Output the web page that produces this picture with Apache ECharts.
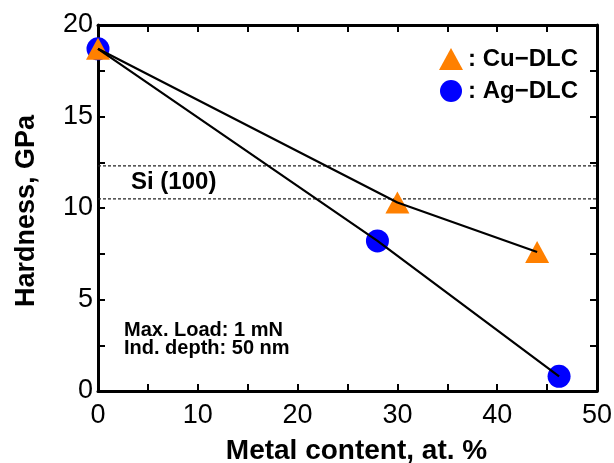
<!DOCTYPE html>
<html><head><meta charset="utf-8">
<script src="https://cdn.jsdelivr.net/npm/echarts@6/dist/echarts.min.js"></script>
<style>html,body{margin:0;padding:0;background:#fff}#c{width:614px;height:463px}</style>
</head><body><div id="c"></div>
<script>
// Data
const cuName = 'Cu\u2212DLC';
const agName = 'Ag\u2212DLC';
const cuX = [0, 30, 44];
const cuY = [18.7, 10.3, 7.6];
const agX = [0, 28, 46.2];
const agY = [18.7, 8.2, 0.8];
const siLevels = [12.3, 10.5];
const xTickLabels = [0, 10, 20, 30, 40, 50];
const yTickLabels = [0, 5, 10, 15, 20];

const FONT = 'Liberation Sans, Arial, Helvetica, sans-serif';
const pairs = (xs, ys) => xs.map((x, i) => [x, ys[i]]);

const chart = echarts.init(document.getElementById('c'), null, {renderer: 'canvas'});

const axisLine = {show: true, onZero: false, lineStyle: {color: '#000', width: 3}};
const axisTick = {show: true, inside: true, length: 7, lineStyle: {color: '#000', width: 2}};

const option = {
  animation: false,
  backgroundColor: '#fff',
  grid: {left: 98, right: 17, top: 25, bottom: 72, containLabel: false, outerBoundsMode: 'none'},
  xAxis: [{
    type: 'value', min: 0, max: 50, interval: 5, position: 'bottom',
    axisLine, axisTick, splitLine: {show: false},
    axisLabel: {
      margin: 11, fontSize: 27, fontFamily: FONT, color: '#000',
      formatter: v => xTickLabels.includes(v) ? String(v) : ''
    },
    name: 'Metal content, at. %', nameLocation: 'middle', nameGap: 46,
    nameTextStyle: {fontSize: 28, fontWeight: 'bold', fontFamily: FONT, color: '#000', padding: [0, 0, 0, 18]}
  }, {
    type: 'value', min: 0, max: 50, interval: 5, position: 'top',
    axisLine, axisTick, splitLine: {show: false}, axisLabel: {show: false}
  }],
  yAxis: [{
    type: 'value', min: 0, max: 20, interval: 2.5, position: 'left',
    axisLine, axisTick, splitLine: {show: false},
    axisLabel: {
      margin: 5, fontSize: 27, fontFamily: FONT, color: '#000', padding: [3, 0, 0, 0],
      formatter: v => yTickLabels.includes(v) ? String(v) : ''
    },
    name: 'Hardness, GPa', nameLocation: 'middle', nameGap: 58,
    nameTextStyle: {fontSize: 27, fontWeight: 'bold', fontFamily: FONT, color: '#000', padding: [0, 6, 0, 0]}
  }, {
    type: 'value', min: 0, max: 20, interval: 2.5, position: 'right',
    axisLine, axisTick, splitLine: {show: false}, axisLabel: {show: false}
  }],
  legend: {
    orient: 'vertical', left: 439, top: 47, padding: 0,
    itemWidth: 24, itemHeight: 22, itemGap: 8,
    data: [{name: cuName, icon: 'triangle'}, {name: agName, icon: 'circle'}],
    formatter: n => ': ' + n,
    textStyle: {fontSize: 24, fontWeight: 'bold', fontFamily: FONT, color: '#000', padding: [0, 0, 0, 0]}
  },
  series: [
    ...siLevels.map((lv, i) => ({
      name: 'Si' + i, type: 'line', silent: true, symbol: 'none', z: 1,
      data: [[0, lv], [50, lv]],
      lineStyle: {color: '#222', width: 1.2, type: [3, 2]}
    })),
    {
      name: agName, type: 'scatter', symbol: 'circle', symbolSize: 23, z: 2,
      itemStyle: {color: '#0000ff', opacity: 1}, data: pairs(agX, agY)
    },
    {
      name: cuName, type: 'scatter', symbol: 'triangle', symbolSize: [24, 22], z: 3,
      itemStyle: {color: '#ff8000', opacity: 1}, data: pairs(cuX, cuY)
    },
    {
      name: 'cuLine', type: 'line', symbol: 'none', z: 4, silent: true,
      lineStyle: {color: '#000', width: 2.2}, data: pairs(cuX, cuY)
    },
    {
      name: 'agLine', type: 'line', symbol: 'none', z: 4, silent: true,
      lineStyle: {color: '#000', width: 2.2}, data: pairs(agX, agY)
    }
  ],
  graphic: [
    {type: 'text', left: 131, top: 170, z: 10,
     style: {text: 'Si (100)', font: 'bold 24px ' + FONT, fill: '#000'}},
    {type: 'text', left: 124, top: 320, z: 10,
     style: {text: 'Max. Load: 1 mN\nInd. depth: 50 nm', font: 'bold 20px ' + FONT, lineHeight: 18.5, fill: '#000'}}
  ]
};
chart.setOption(option);
</script>
</body></html>
